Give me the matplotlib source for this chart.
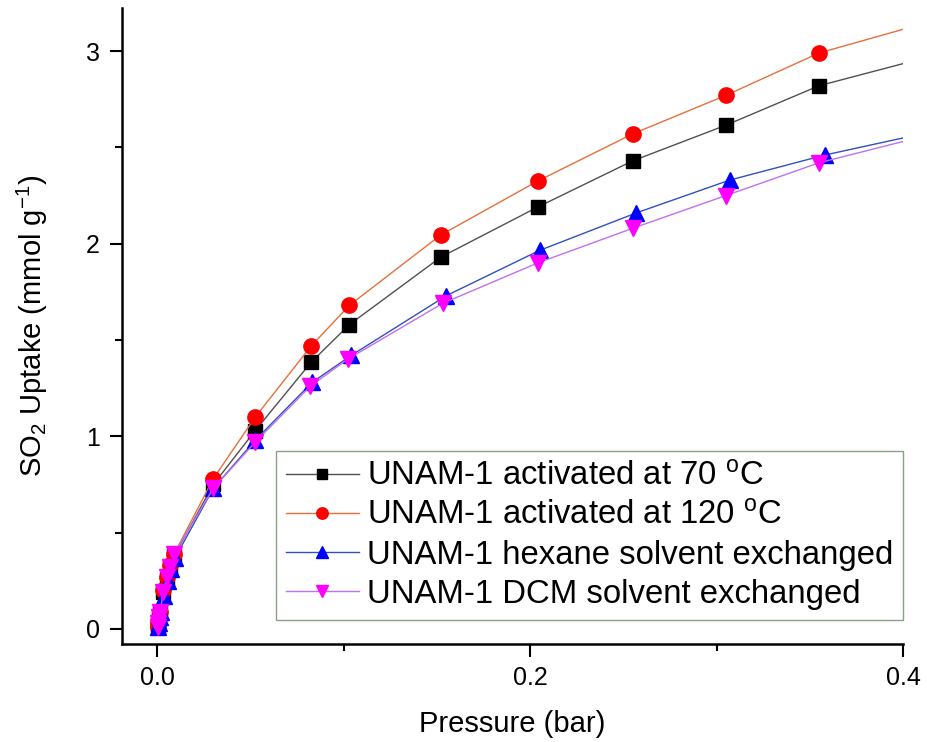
import matplotlib
matplotlib.use("Agg")
import matplotlib.pyplot as plt
from matplotlib.ticker import MultipleLocator, FormatStrFormatter

plt.rcParams['font.family'] = ['Liberation Sans', 'DejaVu Sans']
plt.rcParams['mathtext.fontset'] = 'custom'
plt.rcParams['mathtext.rm'] = 'Liberation Sans'
plt.rcParams['mathtext.it'] = 'Liberation Sans'

# pressure (bar)
p70 = [0.0002, 0.0005, 0.001, 0.0016, 0.003, 0.005, 0.007, 0.009, 0.030, 0.0525, 0.0826, 0.103, 0.152, 0.204, 0.255, 0.305, 0.355, 0.41]
p120 = [0.0002, 0.0005, 0.001, 0.0016, 0.003, 0.005, 0.007, 0.009, 0.030, 0.0525, 0.0826, 0.103, 0.152, 0.204, 0.255, 0.305, 0.355, 0.41]
phex = [0.0003, 0.0006, 0.0012, 0.0018, 0.0035, 0.0055, 0.0075, 0.0095, 0.030, 0.0525, 0.083, 0.104, 0.155, 0.205, 0.257, 0.307, 0.358, 0.41]
pdcm = [0.0002, 0.0005, 0.001, 0.0016, 0.003, 0.005, 0.007, 0.009, 0.030, 0.0525, 0.082, 0.102, 0.153, 0.204, 0.255, 0.305, 0.355, 0.41]

# SO2 uptake (mmol/g)
u70 = [0.01, 0.03, 0.06, 0.09, 0.19, 0.26, 0.32, 0.38, 0.75, 1.03, 1.386, 1.58, 1.93, 2.19, 2.43, 2.615, 2.82, 2.96]
u120 = [0.01, 0.03, 0.06, 0.09, 0.20, 0.27, 0.33, 0.39, 0.78, 1.10, 1.47, 1.68, 2.045, 2.325, 2.57, 2.77, 2.99, 3.14]
uhex = [0.01, 0.03, 0.06, 0.09, 0.17, 0.25, 0.31, 0.37, 0.73, 0.98, 1.28, 1.42, 1.73, 1.965, 2.16, 2.33, 2.46, 2.57]
udcm = [0.01, 0.03, 0.06, 0.09, 0.19, 0.27, 0.32, 0.39, 0.73, 0.97, 1.26, 1.40, 1.69, 1.90, 2.08, 2.25, 2.42, 2.555]

labels = ["UNAM-1 activated at 70 $^{\\mathrm{o}}$C",
          "UNAM-1 activated at 120 $^{\\mathrm{o}}$C",
          "UNAM-1 hexane solvent exchanged",
          "UNAM-1 DCM solvent exchanged"]

fig = plt.figure(figsize=(9.27, 7.42), dpi=100)
ax = fig.add_axes([0.1316, 0.1321, 0.8425, 0.857])

ax.plot(p70, u70, '-s', color='#505050', mfc='black', mec='black', ms=10, lw=1, label=labels[0])
ax.plot(p120, u120, '-o', color='#e8703a', mfc='#ff0000', mec='#ff0000', ms=11, lw=1, label=labels[1])
ax.plot(phex, uhex, '-^', color='#3050c0', mfc='#0000ff', mec='#0000ff', ms=11, lw=1, label=labels[2])
ax.plot(pdcm, udcm, '-v', color='#c070f0', mfc='#ff00ff', mec='#ff00ff', ms=11, lw=1, label=labels[3])

ax.set_xlim(-0.019, 0.4)
ax.set_ylim(-0.078, 3.223)
ax.xaxis.set_major_locator(MultipleLocator(0.2))
ax.xaxis.set_minor_locator(MultipleLocator(0.1))
ax.yaxis.set_major_locator(MultipleLocator(1))
ax.yaxis.set_minor_locator(MultipleLocator(0.5))
ax.xaxis.set_major_formatter(FormatStrFormatter('%.1f'))
ax.tick_params(which='major', direction='out', length=9, width=1.5, labelsize=18, pad=7)
ax.tick_params(which='minor', direction='out', length=5, width=1.5)

for s in ['top', 'right']:
    ax.spines[s].set_visible(False)
for s in ['left', 'bottom']:
    ax.spines[s].set_linewidth(1.8)

ax.set_xlabel("Pressure (bar)", fontsize=21, labelpad=14)
ax.set_ylabel("SO$_2$ Uptake (mmol g$^{-1}$)", fontsize=21, labelpad=26)

leg = ax.legend(loc='lower right', bbox_to_anchor=(1.0, 0.038), fontsize=23.7, frameon=True,
                fancybox=False, edgecolor='#6a8a6a', markerscale=0.75, handlelength=2.2,
                borderpad=0.3, labelspacing=0.25, handletextpad=0.25, borderaxespad=0)
leg.get_frame().set_linewidth(1)

fig.savefig("out.png", dpi=100)
